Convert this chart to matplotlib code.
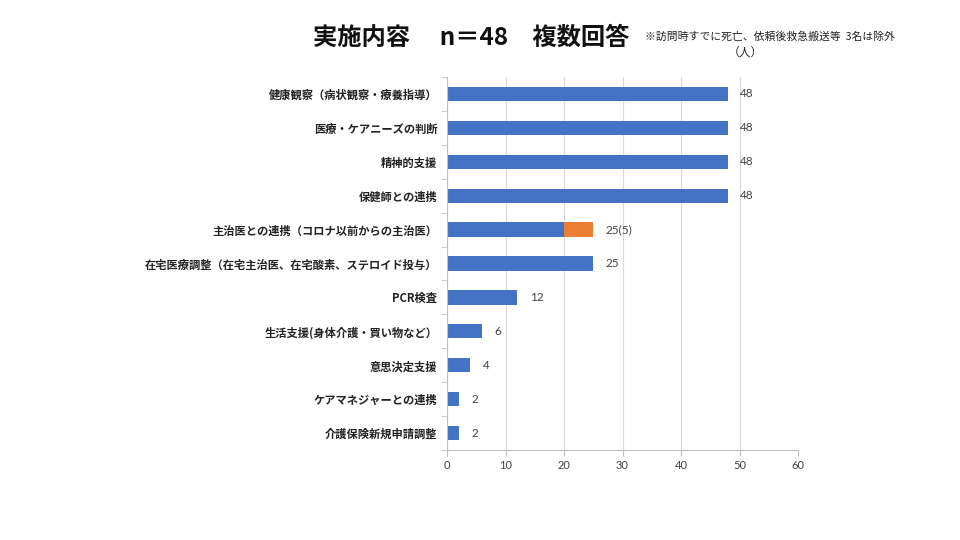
import numpy as np
import matplotlib
matplotlib.use("Agg")
import matplotlib.pyplot as plt

plt.rcParams['font.family'] = ['Noto Sans CJK JP', 'DejaVu Sans']

categories = [
    "健康観察（病状観察・療養指導）",
    "医療・ケアニーズの判断",
    "精神的支援",
    "保健師との連携",
    "主治医との連携（コロナ以前からの主治医）",
    "在宅医療調整（在宅主治医、在宅酸素、ステロイド投与）",
    "PCR検査",
    "生活支援(身体介護・買い物など）",
    "意思決定支援",
    "ケアマネジャーとの連携",
    "介護保険新規申請調整",
]
base_vals = [48, 48, 48, 48, 20, 25, 12, 6, 4, 2, 2]
extra_vals = [0, 0, 0, 0, 5, 0, 0, 0, 0, 0, 0]
value_labels = ["48", "48", "48", "48", "25(5)", "25", "12", "6", "4", "2", "2"]

blue = "#4472C4"
orange = "#ED7D31"

fig = plt.figure(figsize=(9.6, 5.4), dpi=100)
ax = fig.add_axes([447 / 960, 1 - 450 / 540, (798 - 447) / 960, (450 - 77) / 540])

y = np.arange(len(categories))
ax.barh(y, base_vals, height=0.42, color=blue)
ax.barh(y, extra_vals, left=base_vals, height=0.42, color=orange)

totals = [b + e for b, e in zip(base_vals, extra_vals)]
for yi, t, lab in zip(y, totals, value_labels):
    ax.annotate(lab, (t, yi), xytext=(9, 0), textcoords="offset points",
                va="center", ha="left", fontsize=8.5, color="#404040",
                family=["Lato", "DejaVu Sans"])

ax.set_ylim(len(categories) - 0.5, -0.5)
ax.set_xlim(0, 60)
ax.set_xticks(range(0, 61, 10))
ax.set_yticks(y)
ax.set_yticklabels(categories, fontsize=8.1, fontweight="bold", color="#222222")
ax.set_yticks(np.arange(-0.5, len(categories), 1), minor=True)
ax.tick_params(axis="y", which="major", length=0, pad=7)
ax.tick_params(axis="y", which="minor", length=4, color="#bfbfbf")
ax.tick_params(axis="x", length=4, color="#bfbfbf", labelsize=8, labelcolor="#404040")
for lab in ax.get_xticklabels():
    lab.set_family(["Lato", "DejaVu Sans"])

ax.grid(axis="x", color="#d9d9d9", linewidth=0.8)
ax.set_axisbelow(True)
for s in ["top", "right"]:
    ax.spines[s].set_visible(False)
for s in ["left", "bottom"]:
    ax.spines[s].set_color("#bfbfbf")

fig.text(471 / 960, 1 - 38 / 540, "実施内容　 n＝48　複数回答", ha="center", va="center",
         fontsize=17.5, fontweight="bold", color="#111111")
fig.text(770 / 960, 1 - 37 / 540, "※訪問時すでに死亡、依頼後救急搬送等  3名は除外",
         ha="center", va="center", fontsize=7.8, color="#222222")
fig.text(745 / 960, 1 - 52 / 540, "（人）", ha="center", va="center",
         fontsize=8.5, color="#222222")

fig.savefig("out.png", dpi=100)
